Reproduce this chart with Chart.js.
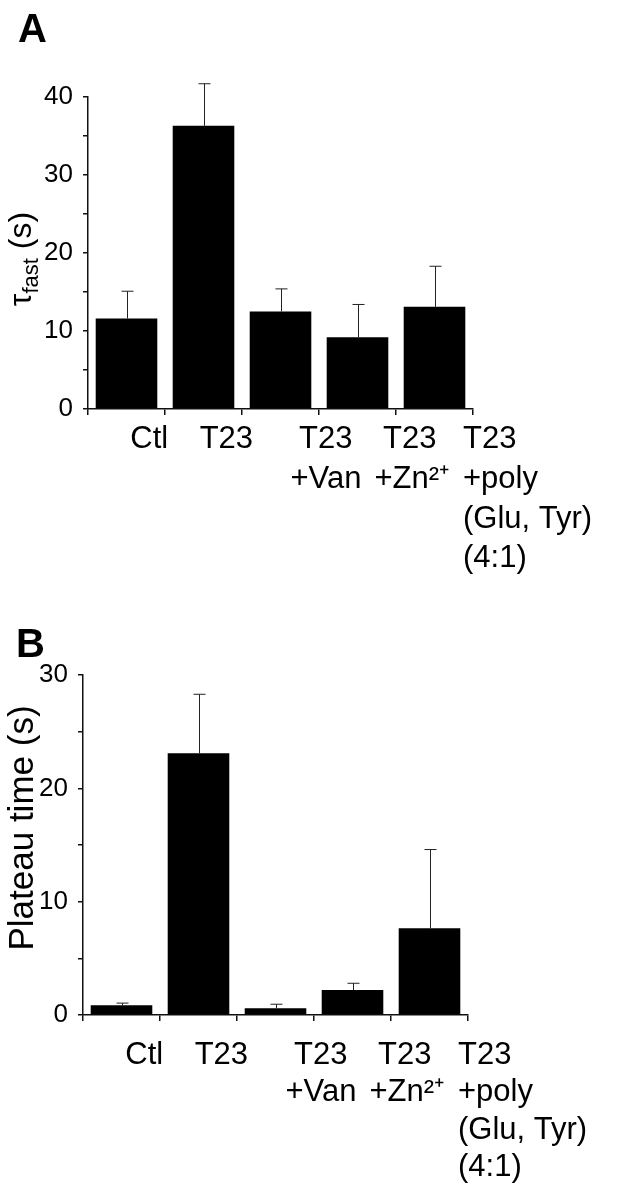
<!DOCTYPE html>
<html>
<head>
<meta charset="utf-8">
<script src="https://cdn.jsdelivr.net/npm/chart.js@4.4.1/dist/chart.umd.min.js"></script>
<style>
  body { margin: 0; background: #fff; }
  .panel { position: absolute; left: 0; width: 633px; }
  .panel canvas { position: absolute; left: 0; top: 0; }
  .letter { position: absolute; font: bold 40px "Liberation Sans", Arial, sans-serif; line-height: 1; color: #000; }
</style>
</head>
<body>
<div class="panel" style="top:0;height:600px">
  <canvas id="chartA" width="633" height="600"></canvas>
  <div class="letter" style="left:18px;top:8px">A</div>
</div>
<div class="panel" style="top:600px;height:599px">
  <canvas id="chartB" width="633" height="599"></canvas>
  <div class="letter" style="left:16px;top:23px">B</div>
</div>
<script>
// groups on the x axis (same for both panels)
const categories = ['Ctl', 'T23', 'T23 +Van', 'T23 +Zn2+', 'T23 +poly(Glu, Tyr) (4:1)'];
const tickLines = [['Ctl'], ['T23'], [' T23', '+Van'], [' T23', '+Zn²⁺'], ['T23', '+poly', '(Glu, Tyr)', '(4:1)']];

// panel A - tau fast (s), mean and error bar
const tauFast = [11.6, 36.3, 12.5, 9.2, 13.1];
const tauFastErr = [3.5, 5.4, 2.9, 4.2, 5.2];

// panel B - plateau time (s)
const plateau = [0.85, 23.1, 0.6, 2.2, 7.65];
const plateauErr = [0.2, 5.2, 0.35, 0.6, 6.95];

// labelled y ticks
const yLabelsA = [0, 10, 20, 30, 40];
const yLabelsB = [0, 10, 20, 30];

const FONT = '"Liberation Sans", Arial, Helvetica, sans-serif';

// error bars drawn from the bar tops
function errorBars(errs) {
    return {
        id: 'errorBars',
        afterDatasetsDraw(chart) {
            const ctx = chart.ctx;
            const y = chart.scales.y;
            const vals = chart.data.datasets[0].data;
            ctx.save();
            ctx.strokeStyle = '#222';
            ctx.lineWidth = 1;
            chart.getDatasetMeta(0).data.forEach((bar, i) => {
                const top = y.getPixelForValue(vals[i] + errs[i]);
                const x = Math.round(bar.x) + 0.5;
                ctx.beginPath();
                ctx.moveTo(x, bar.y);
                ctx.lineTo(x, top);
                ctx.moveTo(x - 6, top);
                ctx.lineTo(x + 6, top);
                ctx.stroke();
            });
            ctx.restore();
        }
    };
}

// rotated y title, with parts so a subscript can be drawn
function yTitle(parts, x, shift) {
    return {
        id: 'yTitle',
        afterDraw(chart) {
            const ctx = chart.ctx;
            const area = chart.chartArea;
            ctx.save();
            ctx.translate(x, (area.top + area.bottom) / 2 + shift);
            ctx.rotate(-Math.PI / 2);
            ctx.fillStyle = '#000';
            ctx.textBaseline = 'alphabetic';
            let total = 0;
            const widths = parts.map(p => {
                ctx.font = p.size + 'px ' + FONT;
                const w = ctx.measureText(p.text).width;
                total += w;
                return w;
            });
            let pos = -total / 2;
            parts.forEach((p, i) => {
                ctx.font = p.size + 'px ' + FONT;
                ctx.fillText(p.text, pos, p.dy);
                pos += widths[i];
            });
            ctx.restore();
        }
    };
}

function barPanel(id, p) {
    const canvasH = document.getElementById(id).height;
    return new Chart(document.getElementById(id), {
        type: 'bar',
        data: {
            labels: categories,
            datasets: [{
                data: p.values,
                backgroundColor: '#000',
                borderWidth: 0,
                barPercentage: 0.8,
                categoryPercentage: 1.0,
                clip: false
            }]
        },
        options: {
            responsive: false,
            animation: false,
            events: [],
            layout: { padding: { left: 0, right: 633 - p.right, top: p.top, bottom: 0 } },
            plugins: { legend: { display: false }, tooltip: { enabled: false } },
            scales: {
                y: {
                    min: 0,
                    max: p.max,
                    afterFit: s => { s.width = p.left; },
                    grid: { display: true, drawOnChartArea: false, drawTicks: true, tickLength: 5, color: '#111', lineWidth: 1.5 },
                    border: { display: true, color: '#111', width: 1.5 },
                    ticks: {
                        stepSize: p.step,
                        maxTicksLimit: 20,
                        padding: 10,
                        color: '#000',
                        font: { family: FONT, size: p.tickSize },
                        callback: v => (p.yLabels.includes(v) ? String(v) : '')
                    }
                },
                x: {
                    weight: 0,
                    afterFit: s => { s.height = 6; },
                    grid: { display: true, offset: true, drawOnChartArea: false, drawTicks: true, tickLength: 6, color: '#111', lineWidth: 1.5 },
                    border: { display: true, color: '#111', width: 1.5 },
                    ticks: { display: false }
                },
                // label axis: same 0..5 span as the five groups
                xl: {
                    type: 'linear',
                    position: 'bottom',
                    weight: 1,
                    offset: false,
                    min: 0,
                    max: 5,
                    afterFit: s => { s.height = canvasH - p.bottom - 6; },
                    afterBuildTicks: s => { s.ticks = p.anchors.map(v => ({ value: v })); },
                    grid: { display: false },
                    border: { display: false },
                    ticks: {
                        autoSkip: false,
                        maxRotation: 0,
                        align: 'start',
                        padding: p.labelPad,
                        color: '#000',
                        font: { family: FONT, size: 31, lineHeight: p.lineHeight },
                        callback: (v, i) => tickLines[i]
                    }
                }
            }
        },
        plugins: [errorBars(p.errs), yTitle(p.title, p.titleX, p.titleShift)]
    });
}

const chartA = barPanel('chartA', {
    values: tauFast, errs: tauFastErr, max: 40, step: 5, yLabels: yLabelsA,
    left: 88, right: 473, top: 97, bottom: 409, tickSize: 26,
    anchors: [0.55, 1.45, 2.63, 3.72, 4.87], labelPad: -3, lineHeight: 1.28,
    title: [{ text: 'τ', size: 32, dy: 11 }, { text: 'fast', size: 22, dy: 18 }, { text: ' (s)', size: 32, dy: 11 }],
    titleX: 20, titleShift: 6
});

const chartB = barPanel('chartB', {
    values: plateau, errs: plateauErr, max: 30, step: 2.5, yLabels: yLabelsB,
    left: 83, right: 468, top: 75, bottom: 415, tickSize: 26,
    anchors: [0.55, 1.45, 2.63, 3.72, 4.87], labelPad: 8, lineHeight: 1.2,
    title: [{ text: 'Plateau time (s)', size: 35, dy: 12.5 }],
    titleX: 20.5, titleShift: -17
});

console.log('charts', chartA, chartB);
</script>
</body>
</html>
